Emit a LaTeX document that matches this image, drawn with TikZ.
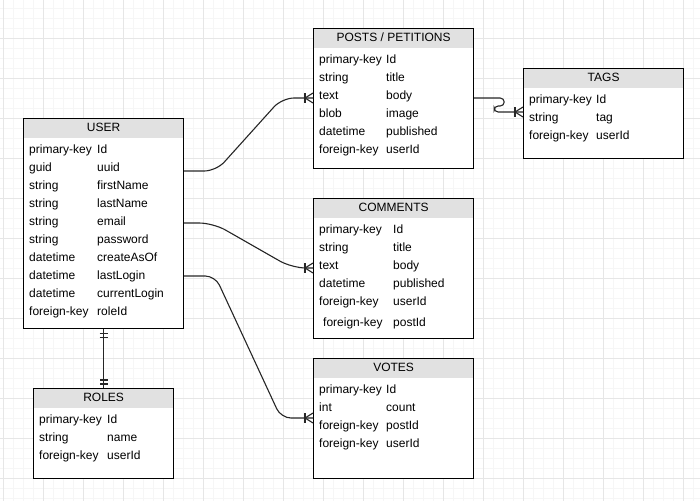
\documentclass[tikz,border=0pt]{standalone}
\usepackage{fontspec}
\setmainfont{Liberation Sans}
\usetikzlibrary{calc}
\definecolor{headgray}{HTML}{E1E1E1}
\definecolor{gridmaj}{HTML}{E6E6E6}
\definecolor{gridmin}{HTML}{F6F6F6}
\tikzset{
  entity/.style={draw, line width=1.2pt, fill=white, anchor=north west, inner sep=0pt,
    path picture={\fill[headgray] (path picture bounding box.north west)
      rectangle ([yshift=-19pt]path picture bounding box.north east);}},
  tabtitle/.style={inner sep=0pt, text height=9pt, text depth=3pt, font=\fontsize{12}{14}\selectfont},
  field/.style={anchor=west, inner sep=0pt, text height=9pt, text depth=3pt, font=\fontsize{12}{14}\selectfont},
  rel/.style={line width=1.1pt, black!85},
  pics/many/.style={code={
    \draw[rel] (-8,-5) -- (-8,5);
    \draw[rel] (0,-5) -- (-8,0) -- (0,5);
  }},
  pics/onlyone/.style={code={
    \draw[rel] (-4,4) -- (4,4);
    \draw[rel] (-4,8) -- (4,8);
  }}
}

\begin{document}
\begin{tikzpicture}[x=1pt,y=-1pt]
\useasboundingbox (0,0) rectangle (700,501);

% background grid
\foreach \gx in {3,13,...,693} \draw[gridmin, line width=0.8pt] (\gx,0) -- (\gx,501);
\foreach \gy in {8,18,...,498} \draw[gridmin, line width=0.8pt] (0,\gy) -- (700,\gy);
\foreach \gx in {3,43,...,683} \draw[gridmaj, line width=0.9pt] (\gx,0) -- (\gx,501);
\foreach \gy in {38,78,...,478} \draw[gridmaj, line width=0.9pt] (0,\gy) -- (700,\gy);

% tables
\node[entity, minimum width=160pt, minimum height=210pt] (user) at (23,118) {};
\node[tabtitle] (user-h) at ($(user.north)+(0,10.5)$) {USER};
\foreach \t/\n [count=\i] in {primary-key/Id, guid/uuid, string/firstName, string/lastName,
    string/email, string/password, datetime/createAsOf, datetime/lastLogin,
    datetime/currentLogin, foreign-key/roleId} {
  \node[field] (user-t\i) at ($(user.north west)+(6,14+18*\i)$) {\t};
  \node[field] (user-n\i) at ($(user.north west)+(74,14+18*\i)$) {\n};
}

\node[entity, minimum width=160pt, minimum height=140pt] (posts) at (313,28) {};
\node[tabtitle] (posts-h) at ($(posts.north)+(0,10.5)$) {POSTS / PETITIONS};
\foreach \t/\n [count=\i] in {primary-key/Id, string/title, text/body, blob/image,
    datetime/published, foreign-key/userId} {
  \node[field] (posts-t\i) at ($(posts.north west)+(6,14+18*\i)$) {\t};
  \node[field] (posts-n\i) at ($(posts.north west)+(73,14+18*\i)$) {\n};
}

\node[entity, minimum width=160pt, minimum height=90pt] (tags) at (523,68) {};
\node[tabtitle] (tags-h) at ($(tags.north)+(0,10.5)$) {TAGS};
\foreach \t/\n [count=\i] in {primary-key/Id, string/tag, foreign-key/userId} {
  \node[field] (tags-t\i) at ($(tags.north west)+(6,14+18*\i)$) {\t};
  \node[field] (tags-n\i) at ($(tags.north west)+(73,14+18*\i)$) {\n};
}

\node[entity, minimum width=160pt, minimum height=140pt] (comments) at (313,198) {};
\node[tabtitle] (comments-h) at ($(comments.north)+(0,10.5)$) {COMMENTS};
\foreach \t/\n [count=\i] in {primary-key/Id, string/title, text/body,
    datetime/published, foreign-key/userId} {
  \node[field] (comments-t\i) at ($(comments.north west)+(6,14+18*\i)$) {\t};
  \node[field] (comments-n\i) at ($(comments.north west)+(80,14+18*\i)$) {\n};
}
\node[field] (comments-t6) at ($(comments.north west)+(10,125)$) {foreign-key};
\node[field] (comments-n6) at ($(comments.north west)+(80,125)$) {postId};

\node[entity, minimum width=160pt, minimum height=120pt] (votes) at (313,358) {};
\node[tabtitle] (votes-h) at ($(votes.north)+(0,10.5)$) {VOTES};
\foreach \t/\n [count=\i] in {primary-key/Id, int/count, foreign-key/postId, foreign-key/userId} {
  \node[field] (votes-t\i) at ($(votes.north west)+(6,14+18*\i)$) {\t};
  \node[field] (votes-n\i) at ($(votes.north west)+(73,14+18*\i)$) {\n};
}

\node[entity, minimum width=140pt, minimum height=90pt] (roles) at (33,388) {};
\node[tabtitle] (roles-h) at ($(roles.north)+(0,10.5)$) {ROLES};
\foreach \t/\n [count=\i] in {primary-key/Id, string/name, foreign-key/userId} {
  \node[field] (roles-t\i) at ($(roles.north west)+(6,14+18*\i)$) {\t};
  \node[field] (roles-n\i) at ($(roles.north west)+(74,14+18*\i)$) {\n};
}

% relations
\coordinate (user-o1) at ($(user.north east)+(0,53)$);
\coordinate (user-o2) at ($(user.north east)+(0,105)$);
\coordinate (user-o3) at ($(user.north east)+(0,158)$);
\coordinate (posts-in) at ($(posts.north west)+(0,70)$);
\coordinate (posts-out) at ($(posts.north east)+(0,70)$);
\coordinate (tags-in) at ($(tags.north west)+(0,44)$);
\coordinate (comments-in) at ($(comments.north west)+(0,70)$);
\coordinate (votes-in) at ($(votes.north west)+(0,60)$);

\draw[rel, rounded corners=12pt] (user-o1) -- ++(32,0) -- ($(posts-in)+(-31,0)$) -- (posts-in);
\draw[rel, rounded corners=4pt] (posts-out) -- ++(30,0) -- ++(0,8) -- ++(-10,0) -- ++(0,6) -- (tags-in);
\draw[rel, rounded corners=14pt] (user-o2) -- ++(29,0) -- ($(comments-in)+(-21,0)$) -- (comments-in);
\draw[rel, rounded corners=10pt] (user-o3) -- ++(31,0) -- ($(votes-in)+(-32,0)$) -- (votes-in);
\draw[rel] (user.south) -- (roles.north);

\pic at (posts-in) {many};
\pic at (tags-in) {many};
\pic at (comments-in) {many};
\pic at (votes-in) {many};
\pic at (user.south) {onlyone};
\pic[rotate=180] at (roles.north) {onlyone};
\end{tikzpicture}
\end{document}
